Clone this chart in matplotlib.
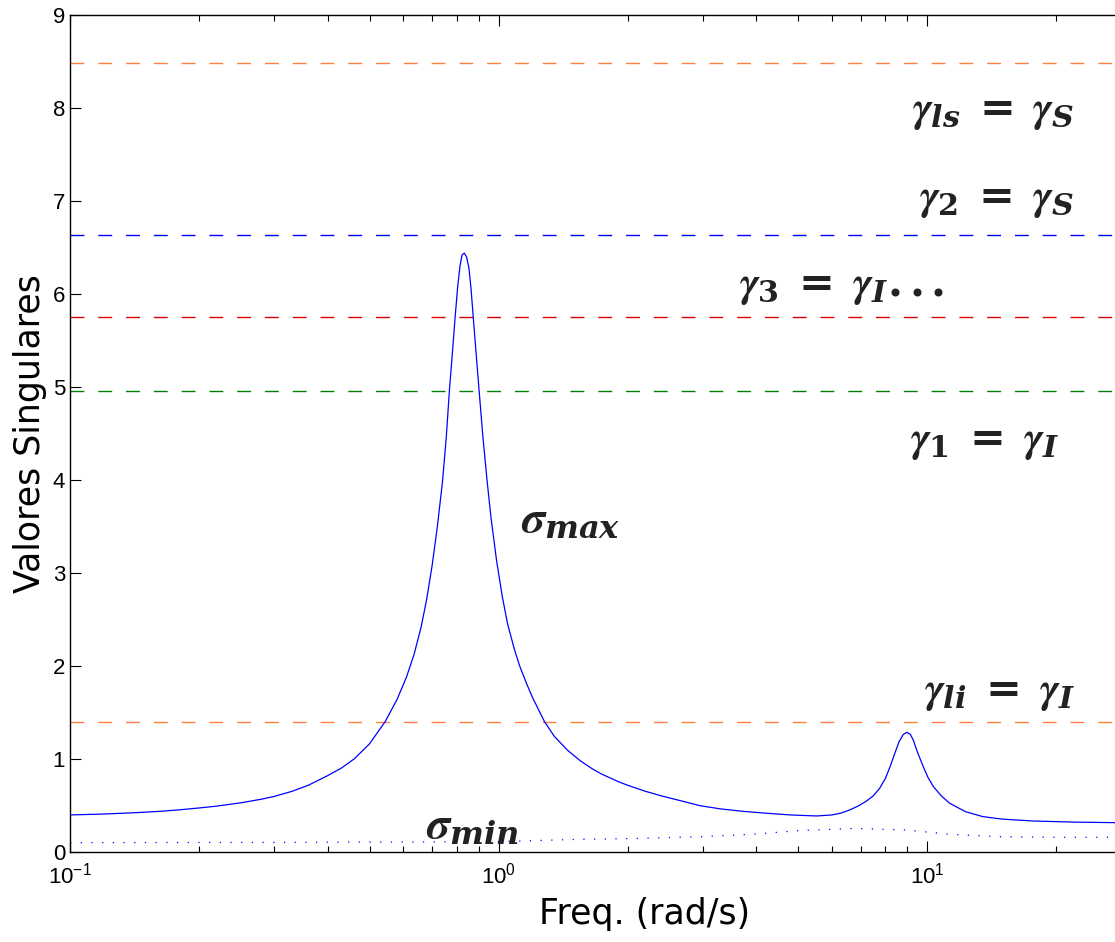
import matplotlib
matplotlib.use("Agg")
import matplotlib.pyplot as plt
import numpy as np

plt.rcParams['mathtext.fontset'] = 'custom'
plt.rcParams['mathtext.it'] = 'STIXGeneral:italic:bold'
plt.rcParams['mathtext.sf'] = 'DejaVu Serif:italic:bold'
plt.rcParams['mathtext.rm'] = 'DejaVu Serif:bold'
plt.rcParams['mathtext.bf'] = 'DejaVu Serif:bold'
plt.rcParams['font.family'] = ['Liberation Sans', 'DejaVu Sans']
plt.rcParams['lines.scale_dashes'] = False

# sigma_max (rad/s, value)
w_max = [0.10, 0.12, 0.14, 0.16, 0.18, 0.20, 0.22, 0.25, 0.28, 0.30, 0.33, 0.36,
         0.40, 0.43, 0.461, 0.50, 0.544, 0.58, 0.61, 0.635, 0.66, 0.68, 0.70, 0.72,
         0.74, 0.755, 0.768, 0.78, 0.792, 0.803, 0.813, 0.822, 0.832, 0.842, 0.853,
         0.863, 0.873, 0.887, 0.901, 0.92, 0.94, 0.96, 0.989, 1.02, 1.05, 1.09, 1.12,
         1.16, 1.2, 1.28, 1.35, 1.45, 1.55, 1.65, 1.74, 1.9, 2.0, 2.2, 2.4, 2.65,
         2.95, 3.3, 3.7, 4.23, 4.8, 5.52, 6.0, 6.3, 6.6, 6.9, 7.2, 7.49, 7.75, 8.0,
         8.2, 8.4, 8.6, 8.8, 8.97, 9.15, 9.29, 9.5, 9.8, 10.05, 10.35, 10.8, 11.3,
         12.3, 13.5, 15.0, 17.7, 22.0, 27.5, 35.0, 48.0]
s_max = [0.395, 0.405, 0.418, 0.432, 0.45, 0.47, 0.49, 0.525, 0.565, 0.595, 0.65, 0.715,
         0.82, 0.90, 1.0, 1.16, 1.40, 1.64, 1.88, 2.12, 2.42, 2.72, 3.08, 3.5,
         3.98, 4.45, 4.96, 5.35, 5.75, 6.08, 6.30, 6.42, 6.44, 6.40, 6.28,
         6.05, 5.75, 5.35, 4.96, 4.45, 4.0, 3.6, 3.14, 2.75, 2.45, 2.17, 2.0,
         1.82, 1.66, 1.4, 1.24, 1.09, 0.98, 0.895, 0.835, 0.755, 0.715, 0.65, 0.60, 0.55,
         0.495, 0.46, 0.435, 0.413, 0.395, 0.384, 0.395, 0.415, 0.449, 0.49, 0.54, 0.60, 0.68, 0.79,
         0.915, 1.05, 1.18, 1.26, 1.285, 1.26, 1.20, 1.07, 0.915, 0.80, 0.70, 0.60, 0.52,
         0.43, 0.377, 0.35, 0.33, 0.318, 0.312, 0.31, 0.308]

# sigma_min
w_min = [0.1, 0.3, 0.6, 1.0, 1.55, 2.0, 2.95, 4.0, 5.0, 6.8, 8.97, 11.3, 15.0, 20.0, 30.0, 48.0]
s_min = [0.097, 0.10, 0.104, 0.108, 0.133, 0.14, 0.16, 0.19, 0.226, 0.25, 0.233, 0.187, 0.16, 0.155, 0.155, 0.155]

# horizontal bounds
gamma_vals = [8.49, 6.64, 5.75, 4.96, 1.396]
gamma_cols = ['#ff8040', '#0000ff', '#e00000', '#008000', '#ff8040']

labels = [r'$\gamma_{\mathsf{ls}}\ =\ \gamma_{\mathsf{S}}$',
          r'$\gamma_{2}\ =\ \gamma_{\mathsf{S}}$',
          r'$\gamma_{3}\ =\ \gamma_{\mathsf{I}}...$',
          r'$\gamma_{1}\ =\ \gamma_{\mathsf{I}}$',
          r'$\gamma_{\mathsf{li}}\ =\ \gamma_{\mathsf{I}}$',
          r'$\sigma_{\mathsf{max}}$',
          r'$\sigma_{\mathsf{min}}$']
label_x = [14.3, 14.5, 6.33, 13.66, 14.8, 1.476, 0.867]
label_y = [7.96, 7.01, 6.08, 4.41, 1.71, 3.57, 0.27]
label_fs = [31, 31, 31, 31, 31, 33, 33]

fig = plt.figure(figsize=(11.15, 9.42), dpi=100)
ax = fig.add_axes([0.0628, 0.0959, 1.0304, 0.888])

for g, c in zip(gamma_vals, gamma_cols):
    ax.axhline(g, color=c, lw=1.0, dashes=(10, 10))

ax.semilogx(w_max, s_max, color='#0000ff', lw=0.9)
ax.semilogx(w_min, s_min, color='#0000ff', lw=0.9, dashes=(0.9, 6.8))

for t, x, y, fs in zip(labels, label_x, label_y, label_fs):
    ax.text(x, y, t, fontsize=fs, ha='center', va='center', color='#222222')

ax.set_xlim(0.1, 48)
ax.set_ylim(0, 9)
ax.set_yticks(range(10))
ax.tick_params(which='both', direction='in', top=True, right=True, labelsize=16, width=0.8)
ax.tick_params(which='major', length=8)
ax.tick_params(which='minor', length=4)
ax.tick_params(axis='x', pad=8)
for sp in ax.spines.values():
    sp.set_linewidth(1.0)

ax.set_xlabel('Freq. (rad/s)', fontsize=25, family='DejaVu Sans', labelpad=6)
ax.set_ylabel('Valores Singulares', fontsize=25, family='DejaVu Sans', labelpad=4)

fig.savefig('out.png', dpi=100)
